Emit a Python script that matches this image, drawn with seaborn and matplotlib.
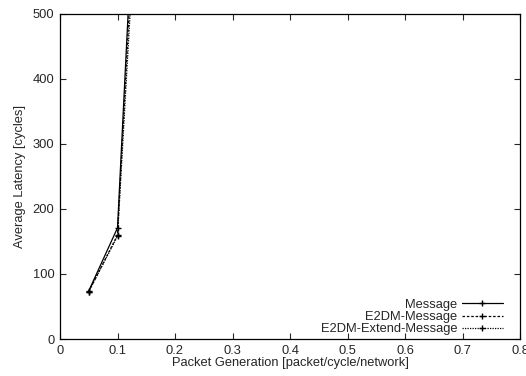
import matplotlib
matplotlib.use("Agg")
import matplotlib.pyplot as plt
import seaborn as sns
import pandas as pd

sns.set_theme(style="ticks")
plt.rcParams['font.family'] = ['Liberation Sans', 'DejaVu Sans']

x_vals = [0.05, 0.10, 0.15]
message = [74, 171, 1065]
e2dm_message = [73, 160, 1008]
e2dm_extend = [73, 158, 939]
series_names = ["Message", "E2DM-Message", "E2DM-Extend-Message"]
x_ticks = [0, 0.1, 0.2, 0.3, 0.4, 0.5, 0.6, 0.7, 0.8]
y_ticks = [0, 100, 200, 300, 400, 500]

rows = []
for name, vals in zip(series_names, [message, e2dm_message, e2dm_extend]):
    for x, y in zip(x_vals, vals):
        rows.append({"x": x, "y": y, "series": name})
df = pd.DataFrame(rows)

fig = plt.figure(figsize=(5.26, 3.76), dpi=100)
ax = fig.add_axes([60/526, 1-339/376, 460/526, 325/376])

styles = {"Message": "-", "E2DM-Message": (0, (2, 1.5)), "E2DM-Extend-Message": (0, (1, 1))}
for name in series_names:
    sub = df[df.series == name]
    sns.lineplot(data=sub, x="x", y="y", ax=ax, color="black", linewidth=0.9,
                 marker="+", markersize=5, markeredgewidth=1, label=name,
                 linestyle=styles[name], markeredgecolor="black")

ax.set_xlim(0, 0.8)
ax.set_ylim(0, 500)
ax.set_xticks(x_ticks)
ax.set_xticklabels([f"{t:g}" for t in x_ticks])
ax.set_yticks(y_ticks)
ax.tick_params(direction="in", top=True, right=True, labelsize=9.3, length=4, width=0.8, pad=4)
for s in ax.spines.values():
    s.set_linewidth(0.9)
    s.set_color("black")
ax.set_xlabel("Packet Generation [packet/cycle/network]", fontsize=9.3, labelpad=0)
ax.set_ylabel("Average Latency [cycles]", fontsize=9.3, labelpad=5)
ax.legend(loc="lower right", bbox_to_anchor=(0.963, 0.012), frameon=False,
          markerfirst=False, fontsize=9.3, handlelength=3.2, labelspacing=0.0,
          borderpad=0.0, handletextpad=0.35, borderaxespad=0.0)
fig.savefig("out.png", dpi=100)
